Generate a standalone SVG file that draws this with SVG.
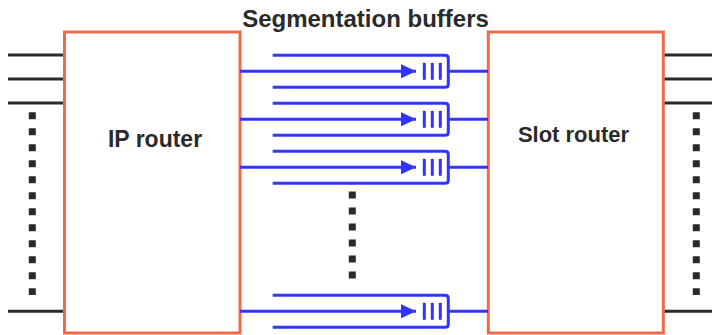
<svg xmlns="http://www.w3.org/2000/svg" width="712" height="335" viewBox="0 0 712 335">
  <defs>
    <style>
      .box { fill: #ffffff; stroke: #f0694a; stroke-width: 3; }
      .port { stroke: #2a2a2a; stroke-width: 3; fill: none; }
      .dots { stroke: #2a2a2a; stroke-width: 7; fill: none; stroke-dasharray: 7 9; }
      .buf { stroke: #3333ff; stroke-width: 3; fill: none; }
      .bar { stroke: #3333ff; stroke-width: 3; }
      .label { font-family: "Liberation Sans", Arial, sans-serif; font-weight: bold; fill: #2a2a2a; text-anchor: middle; }
    </style>
    <marker id="arrow" viewBox="0 0 15 14" refX="15" refY="7" markerWidth="15" markerHeight="14" markerUnits="userSpaceOnUse" orient="auto">
      <path d="M0,0 L15,7 L0,14 Z" fill="#3333ff"/>
    </marker>
    <!-- one segmentation buffer: input arrow, slot bars, U-shaped buffer outline, output line -->
    <g id="buffer">
      <path class="buf" d="M272.7,-16 H445 Q448.3,-16 448.3,-13 V13 Q448.3,16 445,16 H272.7"/>
      <line class="buf" x1="240" y1="0" x2="416" y2="0" marker-end="url(#arrow)"/>
      <line class="bar" x1="424.3" y1="-8.5" x2="424.3" y2="8.5"/>
      <line class="bar" x1="432.3" y1="-8.5" x2="432.3" y2="8.5"/>
      <line class="bar" x1="440.3" y1="-8.5" x2="440.3" y2="8.5"/>
      <line class="buf" x1="448.3" y1="0" x2="488" y2="0"/>
    </g>
  </defs>

  <rect width="712" height="335" fill="#ffffff"/>

  <!-- external ports -->
  <g id="connectors">
    <line class="port" x1="8" y1="55" x2="64" y2="55"/>
    <line class="port" x1="8" y1="79" x2="64" y2="79"/>
    <line class="port" x1="8" y1="103" x2="64" y2="103"/>
    <line class="port" x1="8" y1="311.3" x2="64" y2="311.3"/>
    <line class="dots" x1="32.3" y1="112.2" x2="32.3" y2="295"/>

    <line class="port" x1="664" y1="55" x2="712" y2="55"/>
    <line class="port" x1="664" y1="79" x2="712" y2="79"/>
    <line class="port" x1="664" y1="103" x2="712" y2="103"/>
    <line class="port" x1="664" y1="311.3" x2="712" y2="311.3"/>
    <line class="dots" x1="696.3" y1="112.2" x2="696.3" y2="295"/>

    <line class="dots" x1="352.3" y1="191.5" x2="352.3" y2="279"/>
  </g>

  <g id="ip-router">
    <rect class="box" x="64.5" y="32" width="175.5" height="301"/>
    <text class="label" x="155" y="147.3" font-size="23">IP router</text>
  </g>

  <g id="slot-router">
    <rect class="box" x="488.3" y="32" width="175" height="301"/>
    <text class="label" x="573.5" y="142.3" font-size="22">Slot router</text>
  </g>

  <g id="segmentation-buffers">
    <text class="label" x="365.5" y="27" font-size="24">Segmentation buffers</text>
    <use href="#buffer" transform="translate(0,71.3)"/>
    <use href="#buffer" transform="translate(0,119.3)"/>
    <use href="#buffer" transform="translate(0,167.3)"/>
    <use href="#buffer" transform="translate(0,311.3)"/>
  </g>
</svg>
